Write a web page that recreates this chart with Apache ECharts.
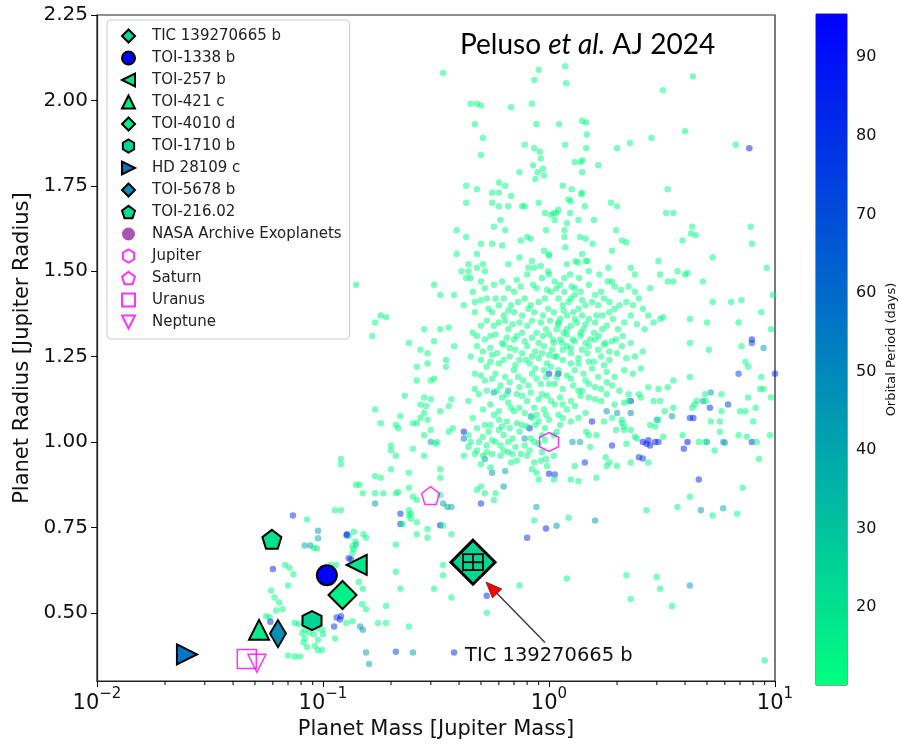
<!DOCTYPE html>
<html>
<head>
<meta charset="utf-8">
<script src="https://cdn.jsdelivr.net/npm/echarts@6/dist/echarts.min.js"></script>
<style>
  html, body { margin: 0; padding: 0; background: #fff; }
  #chart { width: 899px; height: 745px; }
</style>
</head>
<body>
<div id="chart"></div>
<script>
// NASA archive planets: [mass (Mj), radius (Rj), orbital period (days)]
const nasaPlanets = [
  [0.34,2.08,11],[0.90,2.09,11],[0.86,2.06,11],[0.45,1.99,11],[0.48,1.99,11],[0.50,1.985,11],[0.68,1.98,11],[0.84,1.99,11],
  [0.47,1.93,11],[0.88,1.93,11],[0.51,1.89,11],[0.50,1.84,11],[0.78,1.87,11],[0.86,1.86,11],[0.91,1.85,11],[0.92,1.83,11],
  [0.85,1.81,11],[0.89,1.79,11],[0.94,1.80,11],[0.87,1.77,11],[0.95,1.78,11],[0.74,1.79,11],[0.43,1.75,11],[0.48,1.74,11],
  [0.60,1.76,11],[0.64,1.75,11],[0.56,1.73,11],[0.60,1.73,11],[0.68,1.72,11],[0.43,1.70,11],[0.56,1.70,11],[0.76,1.69,11],
  [0.78,1.69,11],[0.90,1.70,11],[0.66,1.69,11],[0.60,1.69,11],[0.96,1.67,11],[1.02,1.665,11],[1.08,1.67,11],
  [1.18,2.10,11],[1.19,2.05,11],[4.33,2.07,11],[3.19,2.03,11],[1.11,1.93,11],[1.40,1.94,11],[1.46,1.935,11],[1.47,1.90,11],
  [1.18,1.87,11],[1.46,1.86,11],[2.0,1.86,11],[2.28,1.875,11],[2.84,1.89,11],[4.0,1.91,11],[6.7,1.87,11],[7.7,1.86,88],
  [1.3,1.82,11],[1.38,1.82,11],[1.41,1.825,11],[1.40,1.79,11],[1.65,1.81,11],[1.15,1.75,11],[1.26,1.74,11],[1.40,1.73,11],
  [1.39,1.725,11],[3.35,1.74,11],[1.22,1.71,11],[1.25,1.705,11],[1.44,1.69,11],[1.88,1.70,11],[2.0,1.69,11],[3.3,1.67,11],
  [3.55,1.67,11],[1.05,1.67,11],[1.06,1.65,11],[1.1,1.68,11],[1.24,1.67,11],[1.35,1.65,11],[1.58,1.65,11],[1.2,1.64,11],
  [1.17,1.62,11],[1.17,1.60,11],[4.3,1.63,11],[4.25,1.61,11],[4.45,1.605,11],[7.8,1.63,11],[1.98,1.62,11],[1.37,1.60,11],
  [1.45,1.595,11],[2.1,1.59,11],[2.2,1.585,11],[3.9,1.59,11],[7.9,1.58,11],[1.18,1.57,11],[1.56,1.58,11],[1.0,1.55,11],
  [1.4,1.55,11],[1.9,1.56,11],[5.3,1.54,11],[1.2,1.52,11],[1.31,1.53,11],[1.34,1.525,11],[1.45,1.53,11],[1.48,1.53,11],
  [3.05,1.53,11],[9.2,1.51,11],[1.5,1.50,11],[1.67,1.49,11],[1.83,1.51,11],[2.3,1.51,11],[2.4,1.49,11],[3.1,1.49,11],
  [3.7,1.50,11],[4.0,1.49,11],[4.1,1.495,11],[4.8,1.47,11],[1.06,1.47,11],[1.17,1.48,11],[1.24,1.49,11],[1.36,1.48,11],
  [1.08,1.45,11],[1.17,1.44,11],[1.38,1.44,11],[1.82,1.47,11],[1.9,1.47,11],[2.08,1.445,11],[2.25,1.455,11],[2.4,1.44,11],
  [2.8,1.45,11],[3.35,1.47,11],[3.55,1.47,11],[8.7,1.38,11],[9.8,1.43,11],[9.6,1.33,11],[7.9,1.30,85],[5.3,1.41,11],
  [6.4,1.41,11],[7.1,1.415,11],[6.9,1.35,11],[5.0,1.35,11],[4.2,1.36,11],[2.75,1.37,11],[3.1,1.36,11],[3.2,1.365,11],
  [1.02,1.44,11],[1.1,1.42,11],[1.15,1.40,11],[1.22,1.41,11],[1.3,1.43,11],[1.05,1.38,11],[1.12,1.36,11],[1.2,1.37,11],
  [1.28,1.38,11],[1.35,1.39,11],[1.45,1.40,11],[1.55,1.41,11],[1.65,1.40,11],[1.75,1.42,11],[1.85,1.41,11],[1.95,1.39,11],
  [2.05,1.40,11],[2.2,1.41,11],[2.35,1.40,11],[2.5,1.42,11],[2.6,1.39,11],[1.08,1.33,11],[1.16,1.32,11],[1.25,1.34,11],
  [1.33,1.35,11],[1.42,1.33,11],[1.5,1.36,11],[1.6,1.35,11],[1.72,1.37,11],[1.8,1.34,11],[1.92,1.36,11],[2.02,1.33,11],
  [2.15,1.35,11],[2.3,1.37,11],[2.45,1.345,11],[1.04,1.30,11],[1.14,1.29,11],[1.27,1.30,11],[1.38,1.31,11],[1.52,1.30,11],
  [1.66,1.31,11],[1.78,1.29,11],[1.98,1.30,11],[2.12,1.31,11],[2.65,1.33,11],[2.9,1.35,11],
  [0.43,1.48,11],[0.50,1.47,11],[0.62,1.47,11],[0.72,1.475,11],[0.8,1.49,11],[0.85,1.46,11],[0.93,1.48,11],[1.0,1.49,11],
  [0.33,1.43,11],[0.38,1.43,11],[0.42,1.40,11],[0.47,1.41,11],[0.50,1.415,11],[0.53,1.42,11],[0.58,1.42,11],[0.63,1.42,11],
  [0.68,1.40,11],[0.73,1.41,11],[0.78,1.42,11],[0.83,1.40,11],[0.9,1.41,11],[0.96,1.42,11],[0.47,1.38,11],[0.56,1.38,11],
  [0.63,1.37,11],[0.70,1.38,11],[0.76,1.37,11],[0.86,1.38,11],[0.94,1.37,11],[0.18,1.37,11],[0.19,1.365,11],[0.17,1.35,11],
  [0.165,1.31,11],[0.28,1.33,11],[0.33,1.33,11],[0.36,1.335,11],[0.46,1.32,11],[0.50,1.34,11],[0.55,1.31,11],[0.60,1.35,11],
  [0.66,1.33,11],[0.72,1.31,11],[0.80,1.34,11],[0.88,1.32,11],[0.97,1.33,11],[0.52,1.30,11],[0.62,1.29,11],[0.70,1.30,11],
  [0.78,1.295,11],[0.9,1.29,11],
  [0.39,1.62,11],[0.57,1.63,11],[0.61,1.65,11],[0.64,1.62,11],[0.43,1.60,11],[0.8,1.60,11],[0.75,1.59,11],[0.83,1.595,11],
  [0.97,1.62,11],[0.50,1.58,11],[0.56,1.58,11],[0.62,1.575,11],[0.39,1.55,11],[0.48,1.55,11],[0.74,1.54,11],[0.95,1.56,11],
  [1.0,1.545,11],[0.44,1.52,11],[0.51,1.52,11],[0.48,1.51,11],[0.84,1.53,11],[0.66,1.52,11],[0.41,1.50,11],[0.44,1.50,11],
  [0.52,1.50,11],[0.81,1.51,11],[0.86,1.51,11],[0.92,1.515,11],[0.99,1.50,11],[0.14,1.46,11],[0.31,1.46,11],[0.45,1.48,11],
  [0.24,1.29,11],[0.27,1.27,11],[0.31,1.295,11],[0.29,1.26,11],[0.35,1.24,11],[0.26,1.22,11],[0.29,1.23,11],[0.35,1.22,11],
  [0.26,1.18,11],[0.30,1.18,11],[0.31,1.185,11],[0.38,1.28,11],[0.23,1.135,11],[0.17,1.095,11],[0.18,1.055,11],[0.21,1.05,11],
  [0.215,1.04,11],[0.22,1.075,11],[0.25,1.055,11],[0.26,1.055,11],[0.27,1.07,11],[0.28,1.085,11],[0.29,1.065,11],[0.28,1.13,11],
  [0.30,1.125,11],[0.27,1.11,11],[0.285,1.105,11],[0.28,1.02,11],[0.30,1.035,11],[0.33,1.09,11],[0.36,1.105,11],[0.37,1.125,11],
  [0.36,1.03,11],[0.375,1.04,11],[0.42,1.03,90],[0.42,1.01,55],[0.30,1.0,45],[0.32,1.0,11],[0.315,0.995,11],[0.20,0.99,11],
  [0.20,0.975,11],[0.21,0.96,11],[0.25,0.98,11],[0.28,0.96,11],[0.12,0.95,11],[0.12,0.935,11],[0.24,0.91,11],[0.33,0.92,11],
  [0.33,0.895,11],[0.20,0.92,11],[0.17,0.90,11],[0.18,0.895,11],[0.14,0.875,11],[0.145,0.875,11],[0.15,0.85,11],[0.17,0.85,11],
  [0.185,0.85,11],[0.21,0.85,11],[0.215,0.853,11],[0.24,0.866,11],[0.25,0.84,11],[0.26,0.83,11],[0.17,0.82,45],[0.34,0.82,42],
  [0.355,0.81,40],[0.37,0.81,38],[0.33,0.845,11],[0.50,0.82,80],[0.57,0.83,11],[0.22,0.79,80],[0.24,0.80,11],[0.245,0.79,11],
  [0.12,0.80,11],[0.88,0.81,40],[0.82,1.04,85],[0.83,1.075,45],[0.78,1.01,45],[0.57,1.145,45],[0.66,1.15,40],[1.0,0.907,85],
  [1.0,1.20,85],[1.1,1.20,88],[0.56,0.91,45],[0.64,0.915,40],[0.52,0.95,45],[0.63,0.87,45],
  [0.48,1.28,11],[0.55,1.275,11],[0.63,1.285,11],[0.71,1.27,11],[0.80,1.28,11],[0.87,1.265,11],[0.95,1.28,11],[1.03,1.27,11],
  [0.45,1.25,11],[0.50,1.24,11],[0.56,1.255,11],[0.60,1.23,11],[0.67,1.25,11],[0.74,1.24,11],[0.82,1.23,11],[0.90,1.245,11],
  [0.98,1.23,11],[1.06,1.25,11],[0.53,1.22,11],[0.47,1.20,11],[0.52,1.18,11],[0.58,1.20,11],[0.64,1.19,11],[0.70,1.21,11],
  [0.77,1.18,11],[0.84,1.20,11],[0.92,1.17,11],[0.97,1.19,11],[0.61,1.165,11],[0.74,1.16,11],[0.44,1.12,11],[0.49,1.14,11],
  [0.55,1.11,11],[0.62,1.13,11],[0.68,1.10,11],[0.72,1.14,11],[0.80,1.12,11],[0.86,1.10,11],[0.93,1.14,11],[1.02,1.12,11],
  [0.59,1.15,11],[0.46,1.07,11],[0.52,1.05,11],[0.57,1.08,11],[0.65,1.06,11],[0.70,1.09,11],[0.76,1.05,11],[0.84,1.07,11],
  [0.90,1.06,11],[0.97,1.08,11],[0.62,1.045,11],[0.44,1.02,11],[0.49,1.0,11],[0.54,1.03,11],[0.58,1.0,11],[0.63,1.02,11],
  [0.69,1.01,11],[0.74,1.03,11],[0.86,1.0,11],[0.93,1.02,11],[0.51,1.015,11],[0.60,1.035,11],[0.42,0.96,11],[0.47,0.965,11],
  [0.51,0.96,11],[0.56,0.965,11],[0.61,0.96,11],[0.66,0.97,11],[0.50,0.935,11],[0.55,0.925,11],[0.68,0.94,11],[0.72,0.945,11],
  [0.80,0.96,11],[0.86,0.94,11],[0.92,0.945,11],[0.98,0.93,11],[0.88,0.91,11],[0.90,0.89,11],[0.84,0.92,11],[0.97,0.95,11],
  [1.05,0.96,11],[0.52,0.85,11],[0.58,0.85,11],[0.50,0.87,11],[0.48,0.86,11],
  [1.55,1.06,85],[2.3,1.12,82],[1.9,0.99,80],[1.44,0.94,80],[1.06,0.905,75],[1.27,1.0,45],[1.37,1.0,40],[1.8,1.09,45],
  [2.0,1.085,45],[2.3,1.085,50],[2.6,1.0,90],[2.7,0.995,92],[2.75,1.005,85],[2.8,0.99,90],[2.95,1.0,88],[3.05,1.0,80],
  [2.5,0.955,80],[2.6,0.952,75],[3.0,1.065,45],[3.5,1.075,45],[4.2,1.07,80],[4.35,1.07,85],[4.1,1.0,95],[3.95,0.98,85],
  [4.6,0.89,85],[4.8,1.12,45],[5.2,1.145,45],[5.15,1.10,80],[6.2,1.11,75],[6.9,1.20,75],[7.9,1.29,70],[8.9,1.275,45],
  [10.0,1.20,85],[7.9,1.0,80],[5.0,1.0,45],[5.9,1.0,45],[6.0,0.998,40],[5.9,0.806,40],
  [4.2,1.29,11],[5.1,1.27,11],[7.1,1.28,11],[7.4,1.235,11],[7.6,1.22,11],[8.7,1.19,11],[8.6,1.155,11],[8.9,1.155,11],
  [9.6,1.13,11],[7.6,1.13,11],[4.2,1.19,11],[4.9,1.14,11],[4.95,1.12,11],[4.4,1.11,11],[4.3,1.10,11],[4.5,1.12,11],
  [5.8,1.14,11],[5.8,1.09,11],[7.0,1.09,11],[7.4,1.09,11],[8.2,1.10,11],[8.0,1.06,11],[5.2,1.06,11],[5.7,1.06,11],
  [5.7,1.03,11],[6.9,1.02,11],[7.5,1.015,11],[8.3,1.0,11],[9.5,1.02,11],[8.5,0.95,11],[4.9,1.0,11],[4.6,1.0,11],
  [5.4,0.975,11],[3.9,1.02,11],[3.2,1.015,11],[2.95,1.045,11],[2.8,1.05,11],[3.05,1.065,11],[3.25,1.09,11],[3.55,1.10,11],
  [3.1,1.12,11],[2.9,1.12,11],[2.55,1.13,11],[2.5,1.14,11],[2.75,1.16,11],[3.05,1.155,11],[3.35,1.16,11],[3.55,1.18,11],
  [2.25,1.14,11],[2.25,1.12,11],[2.15,1.115,11],[1.95,1.11,11],[1.9,1.07,11],[2.1,1.065,11],[2.1,1.055,11],[2.15,1.045,11],
  [1.75,1.06,11],[1.45,1.085,11],[1.35,1.07,11],[1.25,1.06,11],[1.08,1.03,11],[1.05,1.02,11],[1.46,1.03,11],[1.5,1.02,11],
  [1.62,1.02,11],[1.98,1.035,11],[2.15,1.035,11],[2.3,1.035,11],[2.4,1.015,11],[2.45,1.01,11],[2.2,0.995,11],[1.52,0.985,11],
  [1.78,0.955,11],[1.85,0.94,11],[1.8,0.93,11],[2.0,0.93,11],[2.3,0.94,11],[2.75,0.94,11],[1.3,0.93,11],[1.25,0.89,11],
  [1.35,0.885,11],[1.05,0.89,11],[1.62,0.895,11],[4.2,0.84,11],[3.7,0.81,11],[6.8,0.79,11],[7.2,0.866,11],
  [1.05,1.29,11],[1.12,1.30,11],[1.2,1.28,11],[1.3,1.295,11],[1.45,1.29,11],[1.6,1.30,11],[1.75,1.285,11],[1.9,1.295,11],
  [2.1,1.28,11],[2.3,1.29,11],[1.08,1.25,11],[1.15,1.24,11],[1.25,1.26,11],[1.35,1.245,11],[1.48,1.26,11],[1.58,1.235,11],
  [1.7,1.25,11],[1.85,1.24,11],[2.0,1.26,11],[2.2,1.245,11],[2.4,1.25,11],[2.6,1.265,11],[1.1,1.21,11],[1.2,1.195,11],
  [1.3,1.21,11],[1.42,1.20,11],[1.55,1.215,11],[1.65,1.19,11],[1.8,1.205,11],[1.95,1.19,11],[2.15,1.21,11],[2.35,1.20,11],
  [2.55,1.215,11],[1.06,1.17,11],[1.15,1.155,11],[1.28,1.165,11],[1.4,1.15,11],[1.5,1.17,11],[1.7,1.155,11],[1.9,1.165,11],
  [2.05,1.15,11],[1.12,1.13,11],[1.25,1.12,11],[1.38,1.135,11],[1.6,1.125,11],[1.8,1.14,11],[1.2,1.095,11],[1.3,1.105,11],
  [1.1,1.08,11],
  [0.46,1.44,11],[0.52,1.45,11],[0.57,1.46,11],[0.66,1.45,11],[0.70,1.44,11],[0.75,1.455,11],[0.88,1.45,11],[0.98,1.445,11],
  [1.12,1.46,11],[1.26,1.455,11],[0.54,1.39,11],[0.60,1.40,11],[0.66,1.385,11],[0.81,1.39,11],[0.99,1.39,11],[1.16,1.385,11],
  [1.4,1.37,11],[0.53,1.355,11],[0.57,1.34,11],[0.64,1.355,11],[0.69,1.345,11],[0.74,1.35,11],[0.84,1.355,11],[0.92,1.35,11],
  [1.01,1.355,11],[1.1,1.345,11],[0.48,1.31,11],[0.58,1.315,11],[0.65,1.305,11],[0.76,1.32,11],[0.84,1.305,11],[0.94,1.31,11],
  [1.0,1.315,11],[1.2,1.315,11],[0.51,1.265,11],[0.59,1.26,11],[0.67,1.275,11],[0.76,1.26,11],[0.84,1.25,11],[0.93,1.26,11],
  [1.0,1.255,11],[1.15,1.27,11],[1.4,1.27,11],[0.55,1.235,11],[0.63,1.24,11],[0.71,1.225,11],[0.79,1.24,11],[0.87,1.215,11],
  [0.95,1.21,11],[1.02,1.22,11],[1.25,1.23,11],[0.50,1.195,11],[0.56,1.185,11],[0.67,1.175,11],[0.73,1.19,11],[0.81,1.165,11],
  [0.88,1.185,11],[1.0,1.17,11],[1.08,1.19,11],[0.47,1.155,11],[0.53,1.15,11],[0.65,1.14,11],[0.76,1.135,11],[0.83,1.145,11],
  [0.90,1.125,11],[0.98,1.135,11],[1.06,1.11,11],[0.51,1.095,11],[0.60,1.09,11],[0.66,1.115,11],[0.74,1.10,11],[0.78,1.085,11],
  [0.88,1.08,11],[0.95,1.095,11],[1.0,1.065,11],[1.15,1.07,11],[0.48,1.04,11],[0.55,1.05,11],[0.60,1.065,11],[0.67,1.04,11],
  [0.72,1.055,11],[0.80,1.045,11],[0.87,1.05,11],[0.96,1.04,11],[1.12,1.05,11],[0.45,1.0,11],[0.53,0.99,11],[0.56,1.005,11],
  [0.61,0.99,11],[0.66,1.0,11],[0.71,0.985,11],[0.78,0.99,11],[0.83,1.01,11],[0.90,0.995,11],[0.96,1.005,11],[0.44,0.985,11],
  [0.48,0.975,11],[0.53,0.97,11],[0.63,0.975,11],[0.69,0.965,11],[0.75,0.965,11],[0.82,0.975,11],[0.93,0.97,11],
  [1.3,1.45,11],[1.5,1.46,11],[1.7,1.44,11],[1.95,1.455,11],[1.25,1.42,11],[1.4,1.415,11],[1.6,1.43,11],[1.3,1.36,11],
  [1.45,1.345,11],[1.62,1.37,11],[1.85,1.38,11],[1.1,1.35,11],[1.2,1.33,11],[1.38,1.32,11],[1.58,1.32,11],[1.72,1.33,11],
  [1.25,1.275,11],[1.5,1.28,11],[1.65,1.27,11],[1.85,1.265,11],[1.35,1.23,11],[1.5,1.235,11],[1.75,1.225,11],[1.25,1.185,11],
  [1.45,1.18,11],[1.6,1.16,11],[1.8,1.175,11],[1.35,1.15,11],[1.5,1.13,11],[1.7,1.12,11],[1.15,1.11,11],
  [0.22,0.76,80],[0.128,0.73,85],[0.33,0.756,85],[0.97,0.747,85],[0.80,0.72,80],[0.13,0.66,80],[0.53,0.55,85],[0.12,0.49,80],
  [0.38,0.384,85],[0.21,0.386,75],[0.15,0.45,45],[0.155,0.384,45],[0.16,0.35,40],[0.25,0.384,45],[0.14,0.70,40],
  [0.24,0.785,11],[0.245,0.775,11],[0.225,0.76,11],[0.26,0.765,11],[0.29,0.745,11],[0.34,0.755,11],[0.37,0.73,11],[0.29,0.72,11],
  [0.26,0.73,11],[0.21,0.70,11],[0.155,0.72,11],[0.13,0.725,11],[0.135,0.695,11],[0.135,0.675,11],[0.34,0.64,11],[0.21,0.62,11],
  [0.34,0.61,11],[0.22,0.57,11],[0.31,0.57,11],[0.15,0.57,11],[0.37,0.545,11],[0.19,0.52,11],[0.155,0.51,11],[0.19,0.47,11],
  [0.24,0.46,11],[0.135,0.475,11],[0.53,0.50,11],[0.86,0.77,11],[0.74,0.58,11],
  [1.22,0.778,11],[1.6,0.77,45],[1.08,0.755,45],[2.7,0.80,11],[4.7,0.80,45],[5.3,0.785,11],[1.2,0.60,11],[2.2,0.61,11],
  [3.0,0.605,11],[2.3,0.54,11],[3.1,0.57,11],[4.2,0.58,45],[3.5,0.52,11],[9.0,0.36,11],
  [0.0736,0.785,80],[0.085,0.773,11],[0.095,0.74,45],[0.095,0.718,40],[0.083,0.697,40],[0.088,0.697,42],[0.091,0.69,11],
  [0.094,0.688,11],[0.060,0.628,85],[0.068,0.64,11],[0.071,0.632,11],[0.074,0.613,11],[0.070,0.58,11],[0.059,0.565,11],
  [0.061,0.545,11],[0.064,0.53,11],[0.066,0.51,11],[0.062,0.507,11],[0.056,0.49,11],[0.058,0.487,11],[0.0585,0.474,80],
  [0.075,0.47,11],[0.078,0.467,11],[0.081,0.44,11],[0.083,0.425,11],[0.082,0.413,11],[0.091,0.437,11],[0.095,0.42,11],
  [0.070,0.375,11],[0.075,0.372,11],[0.079,0.372,11],[0.085,0.40,11],[0.092,0.403,11],[0.095,0.39,11],[0.099,0.39,11],
  [0.083,0.45,11],[0.087,0.442,11],[0.094,0.455,11],[0.100,0.437,11],[0.099,0.45,11],[0.108,0.64,11],[0.114,0.64,11],
  [0.127,0.727,85],[0.133,0.657,80],[0.137,0.737,11],[0.139,0.709,11],[0.137,0.687,11],[0.151,0.73,11],[0.113,0.80,11],
  [0.115,0.486,80],[0.119,0.48,80],[0.112,0.46,80],[0.127,0.47,11],[0.113,0.425,11],[0.124,0.535,11],[0.149,0.525,11],
  [0.146,0.46,45],[0.144,0.59,11],[0.175,0.47,11]
];

// highlighted planets: name, mass, radius, period
const planetNames   = ['TIC 139270665 b','TOI-1338 b','TOI-257 b','TOI-421 c','TOI-4010 d','TOI-1710 b','HD 28109 c','TOI-5678 b','TOI-216.02'];
const planetMass    = [0.461, 0.104, 0.141, 0.0521, 0.122, 0.0894, 0.025, 0.0632, 0.0594];
const planetRadius  = [0.648, 0.61, 0.64, 0.45, 0.552, 0.477, 0.378, 0.439, 0.715];
const planetPeriod  = [23.6, 95, 18.4, 16.1, 14.7, 24.3, 56.0, 47.7, 20.0];

// solar system giants
const solarNames  = ['Jupiter','Saturn','Uranus','Neptune'];
const solarMass   = [1.0, 0.299, 0.046, 0.051];
const solarRadius = [1.0, 0.843, 0.365, 0.352];

// TIC 139270665 b error bars: [m, r, mLo, mHi, rLo, rHi]
const ticErrors = [[0.461, 0.648, 0.4164, 0.5105, 0.625, 0.6715]];
// annotation arrow: tail (text end) and head, plus text anchor
const arrowTail = [0.96, 0.413];
const arrowHead = [0.526, 0.59];
const labelAnchor = [0.425, 0.375];

const minorTickValues = [0.02,0.03,0.04,0.05,0.06,0.07,0.08,0.09,0.2,0.3,0.4,0.5,0.6,0.7,0.8,0.9,2,3,4,5,6,7,8,9];
const radiusTicks = [0.5, 0.75, 1.0, 1.25, 1.5, 1.75, 2.0, 2.25];
const periodTicks = [20, 30, 40, 50, 60, 70, 80, 90];
const periodMin = 10.1, periodMax = 95.5;

function winter(p) {
  const t = Math.max(0, Math.min(1, (p - periodMin) / (periodMax - periodMin)));
  return 'rgb(0,' + Math.round(255 * (1 - t)) + ',' + Math.round(127.5 + 127.5 * t) + ')';
}

const hexPath = 'path://M5,0 L9.33,2.5 L9.33,7.5 L5,10 L0.67,7.5 L0.67,2.5 Z';
const pentPath = 'path://M5,0 L9.76,3.45 L7.94,9.05 L2.06,9.05 L0.24,3.45 Z';
const leftTri = 'path://M0,5 L10,0 L10,10 Z';
const rightTri = 'path://M10,5 L0,0 L0,10 Z';
const downTri = 'path://M0,0 L10,0 L5,10 Z';

const planetSymbols = ['diamond', 'circle', leftTri, 'triangle', 'diamond', hexPath, rightTri, 'diamond', pentPath];
const planetSizes = [[44,44], 20, 20, 20, 28, 19, 20, [16,27], 19];
const solarSymbols = [hexPath, pentPath, 'rect', downTri];
const solarSizes = [19, 18, 19, 18];

const FONT = 'DejaVu Sans';
const chart = echarts.init(document.getElementById('chart'));

const series = [];
series.push({
  name: 'NASA Archive Exoplanets', type: 'scatter', xAxisIndex: 0, yAxisIndex: 0,
  data: nasaPlanets, symbolSize: 6.5, z: 2,
  itemStyle: { color: '#a24fae', opacity: 0.5 },
  emphasis: { disabled: true }
});
solarNames.forEach((n, i) => {
  series.push({
    name: n, type: 'scatter', xAxisIndex: 0, yAxisIndex: 0, z: 3,
    data: [[solarMass[i], solarRadius[i]]],
    symbol: solarSymbols[i], symbolSize: solarSizes[i],
    itemStyle: { color: 'rgba(255,255,255,0)', borderColor: '#ff00ff', borderWidth: 1.5 }
  });
});
planetNames.forEach((n, i) => {
  series.push({
    name: n, type: 'scatter', xAxisIndex: 0, yAxisIndex: 0, z: i === 0 ? 5 : 4,
    data: [[planetMass[i], planetRadius[i], planetPeriod[i]]],
    symbol: planetSymbols[i], symbolSize: planetSizes[i],
    itemStyle: { color: winter(planetPeriod[i]), borderColor: '#000', borderWidth: i === 0 ? 3 : 2, opacity: 1 }
  });
});
// error bars on TIC 139270665 b
series.push({
  type: 'custom', xAxisIndex: 0, yAxisIndex: 0, z: 6, silent: true,
  data: ticErrors,
  renderItem: function (params, api) {
    const c = api.coord([api.value(0), api.value(1)]);
    const xl = api.coord([api.value(2), api.value(1)]);
    const xr = api.coord([api.value(3), api.value(1)]);
    const yb = api.coord([api.value(0), api.value(4)]);
    const yt = api.coord([api.value(0), api.value(5)]);
    const cap = 9, st = { stroke: '#000', lineWidth: 1.8 };
    const ln = (x1, y1, x2, y2) => ({ type: 'line', shape: { x1, y1, x2, y2 }, style: st });
    return { type: 'group', children: [
      ln(xl[0], c[1], xr[0], c[1]), ln(xl[0], c[1] - cap, xl[0], c[1] + cap), ln(xr[0], c[1] - cap, xr[0], c[1] + cap),
      ln(c[0], yt[1], c[0], yb[1]), ln(c[0] - cap, yt[1], c[0] + cap, yt[1]), ln(c[0] - cap, yb[1], c[0] + cap, yb[1])
    ] };
  }
});
// annotation arrow and text
series.push({
  type: 'custom', xAxisIndex: 0, yAxisIndex: 0, z: 7, silent: true,
  data: [[arrowTail[0], arrowTail[1], arrowHead[0], arrowHead[1], labelAnchor[0], labelAnchor[1]]],
  renderItem: function (params, api) {
    const tail = api.coord([api.value(0), api.value(1)]);
    const head = api.coord([api.value(2), api.value(3)]);
    const lab = api.coord([api.value(4), api.value(5)]);
    const ang = Math.atan2(head[1] - tail[1], head[0] - tail[0]);
    const L = 16, W = 6.5;
    const bx = head[0] - L * Math.cos(ang), by = head[1] - L * Math.sin(ang);
    const nx = -Math.sin(ang) * W, ny = Math.cos(ang) * W;
    return { type: 'group', children: [
      { type: 'line', shape: { x1: tail[0], y1: tail[1], x2: bx, y2: by }, style: { stroke: '#333', lineWidth: 1.3 } },
      { type: 'polygon', shape: { points: [head, [bx + nx, by + ny], [bx - nx, by - ny]] },
        style: { fill: '#ff0000', stroke: '#333', lineWidth: 0.8 } },
      { type: 'text', x: lab[0], y: lab[1],
        style: { text: 'TIC 139270665 b', font: '19.5px "DejaVu Sans"', fill: '#111', textVerticalAlign: 'middle' } }
    ] };
  }
});
// minor log ticks on the mass axis
series.push({
  type: 'custom', xAxisIndex: 0, yAxisIndex: 0, z: 1, silent: true, clip: false,
  data: minorTickValues.map(v => [v, 0.3]),
  renderItem: function (params, api) {
    const p = api.coord([api.value(0), api.value(1)]);
    return { type: 'line', shape: { x1: p[0], y1: p[1], x2: p[0], y2: p[1] + 4 }, style: { stroke: '#000', lineWidth: 1 } };
  }
});
// colour bar
series.push({
  type: 'custom', xAxisIndex: 1, yAxisIndex: 1, silent: true,
  data: [[0, periodMin, 1, periodMax]],
  renderItem: function (params, api) {
    const a = api.coord([api.value(0), api.value(1)]);
    const b = api.coord([api.value(2), api.value(3)]);
    return { type: 'rect', shape: { x: a[0], y: b[1], width: b[0] - a[0], height: a[1] - b[1] },
      style: { fill: new echarts.graphic.LinearGradient(0, 1, 0, 0, [
        { offset: 0, color: '#00ff80' }, { offset: 1, color: '#0000ff' }]) } };
  }
});

const legendData = planetNames.map(n => ({ name: n }))
  .concat([{ name: 'NASA Archive Exoplanets', icon: 'circle', itemStyle: { color: '#a855b5', opacity: 1 } }])
  .concat(solarNames.map(n => ({ name: n })));

chart.setOption({
  backgroundColor: '#fff',
  animation: false,
  textStyle: { fontFamily: FONT },
  title: {
    text: '{a|Peluso }{i|et al.}{a| AJ 2024}',
    left: 455, top: 26,
    textStyle: { fontWeight: 'normal', rich: {
      a: { fontFamily: 'Lato', fontSize: 28, fontWeight: 'normal', color: '#000' },
      i: { fontFamily: 'Lato', fontSize: 28, fontWeight: 'normal', fontStyle: 'italic', color: '#000' }
    } }
  },
  legend: {
    data: legendData, orient: 'vertical', left: 107, top: 20,
    itemWidth: 13, itemHeight: 13, itemGap: 6,
    padding: [8, 8, 9, 14],
    backgroundColor: '#fff', borderColor: '#ccc', borderWidth: 1, borderRadius: 4,
    textStyle: { fontFamily: FONT, fontSize: 15, color: '#222', lineHeight: 16, padding: [0, 0, 0, 12] },
    selectedMode: false
  },
  grid: [
    { left: 97, right: 124, top: 15, bottom: 60, show: true, borderColor: '#222', borderWidth: 1.2, backgroundColor: 'transparent' },
    { left: 816, width: 34, top: 14, bottom: 60, show: true, borderColor: '#333', borderWidth: 1 }
  ],
  xAxis: [
    {
      type: 'log', logBase: 10, min: 0.01, max: 10, gridIndex: 0,
      name: 'Planet Mass [Jupiter Mass]', nameLocation: 'middle', nameGap: 35,
      nameTextStyle: { fontFamily: FONT, fontSize: 21, color: '#111' },
      axisLine: { lineStyle: { color: '#222', width: 1.2 } },
      axisTick: { length: 6, lineStyle: { color: '#000' } },
      splitLine: { show: false }, minorTick: { show: false },
      axisLabel: {
        margin: 6, color: '#111',
        formatter: function (v) {
          const e = Math.round(Math.log10(v));
          return '{b|10}{s|' + (e < 0 ? '\u2212' + (-e) : e) + '}';
        },
        rich: {
          b: { fontFamily: FONT, fontSize: 21, lineHeight: 27, verticalAlign: 'bottom', color: '#111' },
          s: { fontFamily: FONT, fontSize: 15, lineHeight: 15, verticalAlign: 'top', color: '#111' }
        }
      }
    },
    { type: 'value', gridIndex: 1, min: 0, max: 1, show: false }
  ],
  yAxis: [
    {
      type: 'value', min: 0.3, max: 2.25, gridIndex: 0,
      name: 'Planet Radius [Jupiter Radius]', nameLocation: 'middle', nameGap: 57, nameRotate: 90,
      nameTextStyle: { fontFamily: FONT, fontSize: 21, color: '#111' },
      axisLine: { show: true, lineStyle: { color: '#222', width: 1.2 } },
      axisTick: { show: true, length: 6, customValues: radiusTicks, lineStyle: { color: '#000' } },
      axisLabel: { customValues: radiusTicks, fontFamily: FONT, fontSize: 20, color: '#111', margin: 9,
        formatter: v => v.toFixed(2) },
      splitLine: { show: false }
    },
    {
      type: 'value', min: periodMin, max: periodMax, gridIndex: 1, position: 'right',
      name: 'Orbital Period (days)', nameLocation: 'middle', nameGap: 38, nameRotate: 90,
      nameTextStyle: { fontFamily: FONT, fontSize: 13, color: '#111' },
      axisLine: { show: false },
      axisTick: { show: true, length: 4, customValues: periodTicks, lineStyle: { color: '#000' } },
      axisLabel: { customValues: periodTicks, fontFamily: FONT, fontSize: 16, color: '#111', margin: 9 },
      splitLine: { show: false }
    }
  ],
  visualMap: {
    type: 'continuous', show: false, seriesIndex: 0, dimension: 2,
    min: periodMin, max: periodMax,
    inRange: { color: ['#00ff80', '#0000ff'] },
    outOfRange: { color: ['#00ff80'] }
  },
  series: series
});
</script>
</body>
</html>
